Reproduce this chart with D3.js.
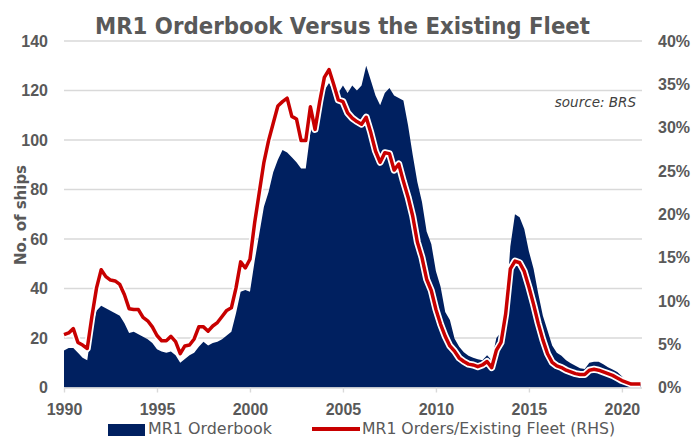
<!DOCTYPE html>
<html>
<head>
<meta charset="utf-8">
<script src="https://cdn.jsdelivr.net/npm/d3@7"></script>
<style>
  html, body { margin: 0; padding: 0; background: #fff; }
  svg { display: block; }
  text { font-family: "DejaVu Sans", "Noto Sans", sans-serif; fill: #595959; }
  .tk { font-family: "Liberation Sans", Arial, sans-serif; font-size: 16px; font-weight: bold; fill: #595959; }
</style>
</head>
<body>
<svg id="chart" width="691" height="438"></svg>
<script>
// ---- data (quarterly, from Q1 1990) ----
const startYear = 1990;
const orderbook = [
  15, 16, 16, 14, 12, 11, 24, 31,
  33, 32, 31, 30, 29, 26, 22, 22.5,
  21.5, 20.5, 19.5, 18, 15.5, 14.5, 14, 14.5,
  13, 10, 11.5, 13, 14, 16.5, 18.5, 17,
  18, 18.5, 19.5, 21, 22.5, 30, 38.7, 39.4,
  38.7, 51, 62, 73, 79, 87, 92, 96,
  95, 93, 91, 88.5, 88.5, 103, 107, 113,
  120, 123, 120, 119, 122, 119, 122, 120,
  122, 130, 124, 118, 114, 119, 121, 118,
  117, 116, 106, 94, 83, 75, 63, 58,
  47, 40.7, 30.5, 27.3, 19.8, 16.5, 14.2, 12.8,
  12, 11.4, 11, 13, 11, 20, 22.3, 30,
  57, 70, 68.8, 64, 55, 48, 38, 29,
  23, 17, 14, 12.8, 11, 9.8, 8.8, 7.8,
  7.5, 10, 10.4, 10.4, 9.4, 8.2, 7.3, 6.3,
  4.5, 2.3, 1.5, 1.3, 1.3
];
const ordersToFleet = [
  6.1, 6.3, 6.8, 5.2, 4.9, 4.5, 8.2, 11.5,
  13.6, 12.8, 12.4, 12.3, 11.9, 10.7, 9.1, 9.0,
  9.0, 8.1, 7.7, 7.0, 6.0, 5.4, 5.4, 5.9,
  5.3, 3.9, 4.8, 4.9, 5.6, 7.0, 7.0, 6.5,
  7.1, 7.5, 8.2, 8.9, 9.2, 11.5, 14.5, 13.8,
  14.8, 19.0, 22.5, 26.0, 28.5, 30.5, 32.5, 33.0,
  33.4, 31.3, 31.0, 28.5, 28.5, 32.4, 29.8, 33.0,
  35.8, 36.7, 35.0, 33.2, 33.0, 31.7, 31.1, 30.7,
  30.4, 31.2, 29.4, 27.3, 26.0, 27.1, 27.0, 25.1,
  25.8, 23.8, 22.0, 19.8, 16.8, 15.0, 12.5, 11.2,
  9.0, 7.3, 5.9, 4.8, 4.2, 3.4, 3.0, 2.7,
  2.6, 2.4, 2.6, 3.0, 2.3, 4.3, 5.2, 8.5,
  13.7, 14.6, 14.4, 13.4, 11.6, 9.6, 7.4, 5.5,
  3.9, 2.9, 2.5, 2.3, 2.0, 1.8, 1.6, 1.5,
  1.5, 2.0, 2.1, 2.0, 1.8, 1.6, 1.4, 1.1,
  0.8, 0.6, 0.4, 0.4, 0.4
];
const xTicks = [1990, 1995, 2000, 2005, 2010, 2015, 2020];
const leftTicks = [0, 20, 40, 60, 80, 100, 120, 140];
const rightTicks = [0, 5, 10, 15, 20, 25, 30, 35, 40];
const titleText = "MR1 Orderbook Versus the Existing Fleet";
const yTitle = "No. of ships";
const sourceText = "source: BRS";
const legendLabels = ["MR1 Orderbook", "MR1 Orders/Existing Fleet (RHS)"];

// ---- build ----
const dates = orderbook.map((_, i) => startYear + i / 4);
const svg = d3.select("#chart");
const navy = "#002060", red = "#c80000", grid = "#d9d9d9", txt = "#595959";

const x = d3.scaleLinear().domain([1990, 2021]).range([64, 640.5]);
const yL = d3.scaleLinear().domain([0, 140]).range([387.5, 41]);
const yR = d3.scaleLinear().domain([0, 40]).range([387.5, 41]);

// gridlines
svg.append("g").selectAll("line").data(leftTicks.filter(d => d > 0)).join("line")
  .attr("x1", x(1990)).attr("x2", 642)
  .attr("y1", d => yL(d)).attr("y2", d => yL(d))
  .attr("stroke", grid).attr("stroke-width", 1.4);

// area
const area = d3.area().x((d, i) => x(dates[i])).y0(yL(0)).y1(d => yL(d));
svg.append("path").datum(orderbook).attr("d", area).attr("fill", navy);

// x axis baseline and ticks
const xAxis = d3.axisBottom(x).tickValues(xTicks).tickFormat(d3.format("d")).tickSize(5).tickSizeOuter(0);
const gx = svg.append("g").attr("transform", `translate(0,${yL(0)})`).call(xAxis);
gx.attr("font-family", null).attr("font-size", null);
gx.select(".domain").attr("stroke", grid).attr("stroke-width", 1.4).attr("d", `M${x(1990)},0.5H642`);
gx.selectAll(".tick line").attr("stroke", grid).attr("stroke-width", 1.4);
gx.selectAll(".tick text").attr("class", "tk").attr("y", 27).attr("dy", 0);

// line with white halo
const line = d3.line().x((d, i) => x(dates[i])).y(d => yR(d));
svg.append("path").datum(ordersToFleet).attr("d", line)
  .attr("fill", "none").attr("stroke", "#fff").attr("stroke-width", 7).attr("stroke-linejoin", "round");
svg.append("path").datum(ordersToFleet).attr("d", line)
  .attr("fill", "none").attr("stroke", red).attr("stroke-width", 3.5).attr("stroke-linejoin", "round");

// left axis labels
const yAxisL = d3.axisLeft(yL).tickValues(leftTicks).tickSize(0).tickPadding(16);
const gl = svg.append("g").attr("transform", `translate(${x(1990)},0)`).call(yAxisL);
gl.attr("font-family", null).attr("font-size", null);
gl.select(".domain").remove();
gl.selectAll("text").attr("class", "tk");

// right axis labels
const yAxisR = d3.axisRight(yR).tickValues(rightTicks).tickSize(0).tickPadding(16).tickFormat(d => d + "%");
const gr = svg.append("g").attr("transform", `translate(642,0)`).call(yAxisR);
gr.attr("font-family", null).attr("font-size", null);
gr.select(".domain").remove();
gr.selectAll("text").attr("class", "tk");

// title
svg.append("text").attr("x", 95).attr("y", 34)
  .attr("textLength", 495).attr("lengthAdjust", "spacingAndGlyphs")
  .style("font-size", "23px").style("font-weight", "bold").style("fill", txt)
  .text(titleText);

// y-axis title
svg.append("text").attr("transform", "translate(26,215) rotate(-90)")
  .attr("text-anchor", "middle")
  .attr("textLength", 100).attr("lengthAdjust", "spacingAndGlyphs")
  .style("font-size", "15.5px").style("font-weight", "bold").style("fill", txt)
  .text(yTitle);

// source
svg.append("text").attr("x", 636).attr("y", 107).attr("text-anchor", "end")
  .style("font-size", "13.5px").style("font-style", "italic").style("fill", "#404040")
  .text(sourceText);

// legend
svg.append("rect").attr("x", 108).attr("y", 424).attr("width", 37).attr("height", 12).attr("fill", navy);
svg.append("text").attr("x", 148).attr("y", 434)
  .attr("textLength", 124).attr("lengthAdjust", "spacingAndGlyphs")
  .style("font-size", "15.5px").style("fill", txt).text(legendLabels[0]);
svg.append("line").attr("x1", 312).attr("x2", 360).attr("y1", 429).attr("y2", 429)
  .attr("stroke", red).attr("stroke-width", 4);
svg.append("text").attr("x", 362).attr("y", 434)
  .attr("textLength", 253).attr("lengthAdjust", "spacingAndGlyphs")
  .style("font-size", "15.5px").style("fill", txt).text(legendLabels[1]);
</script>
</body>
</html>
